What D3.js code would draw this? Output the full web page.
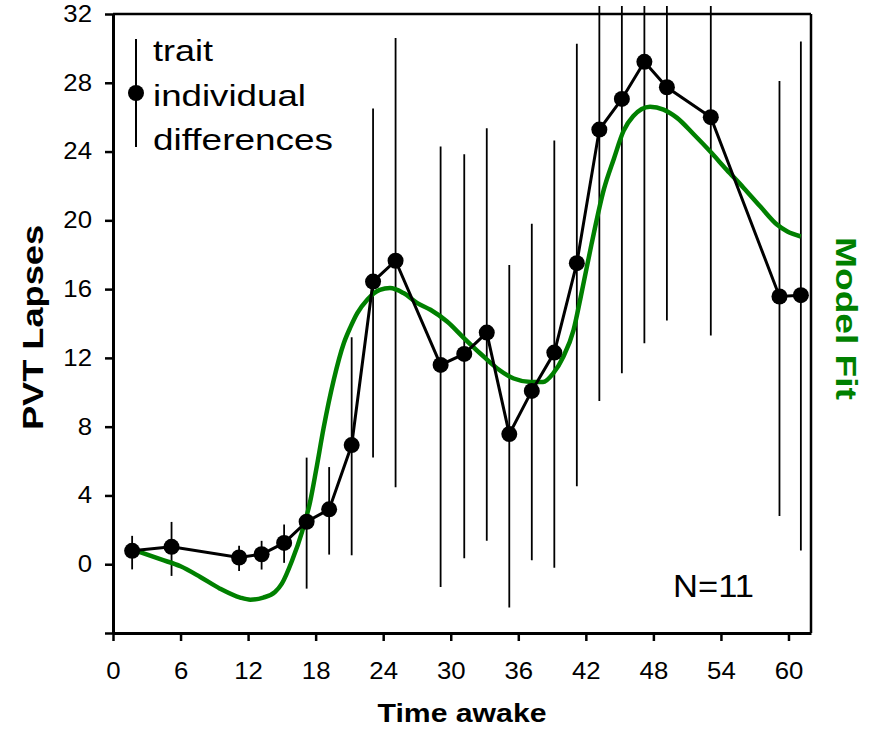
<!DOCTYPE html>
<html>
<head>
<meta charset="utf-8">
<script src="https://cdn.jsdelivr.net/npm/d3@7"></script>
<style>
  body { margin: 0; background: #fff; }
  text { font-family: "Liberation Sans", Arial, sans-serif; }
</style>
</head>
<body>
<div id="chart"></div>
<script>
// observed means, hours awake vs PVT lapses
let times = [1.7, 5.2, 11.2, 13.2, 15.2, 17.2, 19.2, 21.2, 23.1, 25.1, 29.1, 31.2,
             33.2, 35.2, 37.2, 39.2, 41.2, 43.2, 45.2, 47.2, 49.2, 53.1, 59.2, 61.1];
let lapses = [0.78, 1.01, 0.39, 0.58, 1.24, 2.47, 3.19, 6.93, 16.44, 17.65, 11.59, 12.23,
              13.47, 7.57, 10.08, 12.31, 17.51, 25.28, 27.06, 29.22, 27.74, 26.0, 15.57, 15.65];
// error bar ends (trait individual differences); bars 18-22 run past the top
let errLow = [-0.3, -0.68, -0.39, -0.31, 0.08, -1.42, 0.56, 0.52, 6.2, 4.47, -1.32, 0.35,
              1.36, -2.52, 0.23, -0.21, 4.54, 9.49, 11.1, 12.85, 14.17, 13.3, 2.8, 0.8];
let errHigh = [1.65, 2.46, 1.07, 1.36, 2.31, 6.2, 5.65, 13.2, 26.5, 30.6, 24.3, 23.85,
               25.35, 17.4, 19.8, 24.65, 30.27, 34, 34, 34, 34, 34, 28.1, 30.4];
// model fit curve
let fitTimes = [1.7, 4.2, 6.0, 7.75, 9.5, 11.3, 12.2, 13.35, 14.4, 15.0, 15.9, 16.8, 17.5,
                18.05, 18.7, 19.6, 20.5, 21.1, 21.7, 22.6, 23.7, 24.6, 25.8, 27.0, 28.2,
                29.7, 31.1, 32.6, 34.1, 35.6, 37.1, 38.2, 39.1, 40.0, 40.9, 41.5, 42.5,
                43.6, 44.5, 45.35, 46.2, 47.7, 48.9, 50.1, 51.6, 53.05, 54.5, 56.0, 57.5,
                59.0, 59.9, 61.1];
let fitValues = [0.87, 0.29, -0.12, -0.74, -1.42, -1.94, -2.06, -1.94, -1.61, -1.13, 0.2,
                 1.9, 3.6, 5.5, 7.9, 10.7, 12.85, 13.8, 14.6, 15.4, 15.96, 16.06, 15.77,
                 15.2, 14.8, 14.1, 13.2, 12.27, 11.4, 10.8, 10.6, 10.6, 11.1, 12.07, 13.6,
                 15.4, 18.6, 21.8, 23.6, 25.2, 26.05, 26.6, 26.44, 25.96, 24.99, 24.0,
                 22.95, 21.9, 20.8, 19.74, 19.35, 19.06];
let xTicks = [0, 6, 12, 18, 24, 30, 36, 42, 48, 54, 60];
let yTicks = [-4, 0, 4, 8, 12, 16, 20, 24, 28, 32];
let legendLines = ["trait", "individual", "differences"];

let margin = {top: 14, right: 68, bottom: 98, left: 113};
let svgW = 879, svgH = 731;
let w = svgW - margin.left - margin.right;
let h = svgH - margin.top - margin.bottom;
let green = "#008000";

let svg = d3.select("#chart").append("svg")
    .attr("width", svgW).attr("height", svgH);
let g = svg.append("g").attr("transform", "translate(" + margin.left + "," + margin.top + ")");

let x = d3.scaleLinear().domain([0, 62]).range([0, w]);
let y = d3.scaleLinear().domain([-4, 32]).range([h, 0]);

// stretch text horizontally to a wanted length
function stretch(sel, len) {
    sel.each(function () {
        let L = typeof len === "function" ? len(this.getComputedTextLength()) : len;
        d3.select(this).attr("textLength", L).attr("lengthAdjust", "spacingAndGlyphs");
    });
}

svg.append("clipPath").attr("id", "clip").append("rect")
    .attr("x", -margin.left).attr("y", 6 - margin.top).attr("width", svgW).attr("height", svgH);

// error bars
g.append("g").attr("clip-path", "url(#clip)").selectAll("line").data(times).enter().append("line")
    .attr("x1", d => x(d)).attr("x2", d => x(d))
    .attr("y1", (d, i) => y(errLow[i])).attr("y2", (d, i) => y(errHigh[i]))
    .attr("stroke", "#000").attr("stroke-width", 1.8);

// model fit
let fitLine = d3.line().x(d => x(d[0])).y(d => y(d[1])).curve(d3.curveMonotoneX);
g.append("path").datum(fitTimes.map((t, i) => [t, fitValues[i]]))
    .attr("d", fitLine).attr("fill", "none").attr("stroke", green).attr("stroke-width", 4.5);

// data line + dots
let dataLine = d3.line().x(d => x(d[0])).y(d => y(d[1]));
g.append("path").datum(times.map((t, i) => [t, lapses[i]]))
    .attr("d", dataLine).attr("fill", "none").attr("stroke", "#000").attr("stroke-width", 3);
g.selectAll(".dot").data(times).enter().append("circle").attr("class", "dot")
    .attr("cx", d => x(d)).attr("cy", (d, i) => y(lapses[i])).attr("r", 8).attr("fill", "#000");

// frame top/right
g.append("line").attr("x1", 0).attr("x2", w).attr("y1", 0).attr("y2", 0)
    .attr("stroke", "#000").attr("stroke-width", 2.5);
g.append("line").attr("x1", w).attr("x2", w).attr("y1", 0).attr("y2", h)
    .attr("stroke", "#000").attr("stroke-width", 2.5);

// axes
let xAxis = d3.axisBottom(x).tickValues(xTicks).tickSize(8).tickPadding(22).tickSizeOuter(0);
let yAxis = d3.axisLeft(y).tickValues(yTicks).tickSize(8).tickPadding(13).tickSizeOuter(0)
    .tickFormat(d => d < 0 ? "" : d);
let gx = g.append("g").attr("transform", "translate(0," + h + ")").call(xAxis);
let gy = g.append("g").call(yAxis);
[gx, gy].forEach(a => {
    a.select(".domain").attr("stroke", "#000").attr("stroke-width", 3);
    a.selectAll(".tick line").attr("stroke", "#000").attr("stroke-width", 2.5);
    a.selectAll("text").attr("font-size", 23).attr("font-family", "Liberation Sans, Arial, sans-serif")
        .attr("fill", "#000");
    stretch(a.selectAll("text"), l => l * 1.12);
});

// titles
let xt = svg.append("text").attr("x", margin.left + w / 2).attr("y", 722)
    .attr("text-anchor", "middle").attr("font-weight", "bold").attr("font-size", 25)
    .text("Time awake");
stretch(xt, 169);

let yt = svg.append("text").attr("transform", "translate(43," + (margin.top + h / 2 + 4) + ") rotate(-90)")
    .attr("text-anchor", "middle").attr("font-weight", "bold").attr("font-size", 29)
    .text("PVT Lapses");
stretch(yt, 205);

let mt = svg.append("text").attr("transform", "translate(836," + (margin.top + h / 2 - 5) + ") rotate(90)")
    .attr("text-anchor", "middle").attr("font-weight", "bold").attr("font-size", 29)
    .attr("fill", green).text("Model Fit");
stretch(mt, 163);

// legend
let lg = svg.append("g");
lg.append("line").attr("x1", 136).attr("x2", 136).attr("y1", 39).attr("y2", 147)
    .attr("stroke", "#000").attr("stroke-width", 2);
lg.append("circle").attr("cx", 136).attr("cy", 93).attr("r", 8).attr("fill", "#000");
let legendLen = [60, 153, 180];
lg.selectAll("text").data(legendLines).enter().append("text")
    .attr("x", 153).attr("y", (d, i) => 61 + i * 44.5)
    .attr("font-size", 29).text(d => d)
    .each(function (d, i) { stretch(d3.select(this), legendLen[i]); });

let nt = svg.append("text").attr("x", 673).attr("y", 597).attr("font-size", 31).text("N=11");
stretch(nt, 81);
</script>
</body>
</html>
